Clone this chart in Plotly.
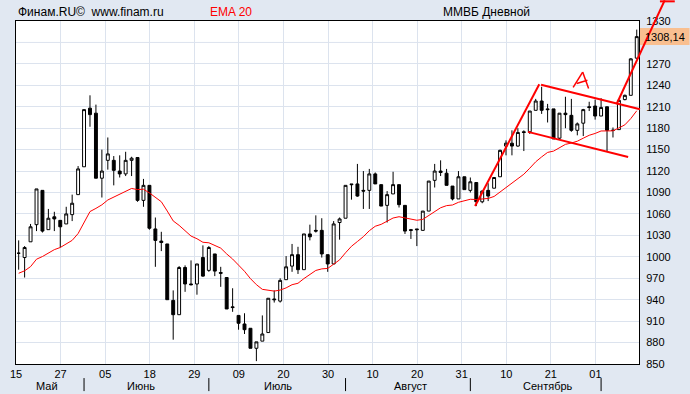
import plotly.graph_objects as go

# ---- data ----
opens = [1005, 999, 1021, 1045, 1093, 1038, 1056, 1051, 1046, 1059,
         1087, 1126, 1208, 1201, 1110, 1135, 1135, 1120, 1116, 1135,
         1139, 1079, 1100, 1039, 1022, 1018, 939, 919, 985, 962,
         962, 999, 981, 1004, 978, 971, 930, 918, 906, 900,
         872, 882, 894, 941, 938, 968, 987, 1003, 982, 1032,
         1037, 1037, 1003, 990, 1048, 1054, 1102, 1102, 1093, 1093,
         1116, 1101, 1072, 1088, 1101, 1072, 1038, 1039, 1037, 1064,
         1107, 1120, 1117, 1099, 1081, 1112, 1093, 1104, 1077, 1093,
         1096, 1112, 1155, 1159, 1155, 1175, 1175, 1205, 1218, 1207,
         1207, 1166, 1201, 1198, 1177, 1187, 1210, 1211, 1197, 1210,
         1177, 1178, 1220, 1226, 1278]
highs = [1023, 1015, 1046, 1095, 1093, 1067, 1063, 1051, 1070, 1087,
         1127, 1206, 1226, 1213, 1150, 1167, 1141, 1142, 1147, 1140,
         1139, 1109, 1100, 1055, 1035, 1018, 953, 987, 988, 995,
         990, 1016, 1015, 1004, 986, 971, 956, 918, 921, 900,
         881, 918, 942, 953, 970, 1001, 1018, 1014, 1032, 1045,
         1058, 1054, 1003, 1050, 1055, 1100, 1102, 1130, 1120, 1123,
         1118, 1101, 1092, 1119, 1101, 1072, 1039, 1039, 1064, 1106,
         1130, 1135, 1123, 1099, 1120, 1112, 1111, 1104, 1093, 1103,
         1111, 1150, 1163, 1177, 1180, 1177, 1204, 1221, 1238, 1214,
         1207, 1201, 1224, 1221, 1188, 1207, 1217, 1220, 1222, 1210,
         1181, 1219, 1227, 1278, 1318]
lows = [982, 971, 1021, 1036, 1034, 1038, 1036, 1013, 1046, 1050,
        1087, 1126, 1182, 1110, 1083, 1122, 1100, 1111, 1113, 1113,
        1077, 1070, 1038, 986, 1008, 940, 884, 919, 951, 960,
        947, 972, 979, 973, 958, 927, 923, 898, 892, 872,
        854, 882, 894, 936, 936, 968, 979, 976, 982, 1023,
        1034, 999, 979, 990, 1024, 1054, 1080, 1084, 1067, 1067,
        1102, 1071, 1048, 1088, 1069, 1032, 1025, 1015, 1037, 1064,
        1097, 1113, 1100, 1079, 1081, 1094, 1090, 1071, 1075, 1078,
        1096, 1112, 1142, 1142, 1154, 1148, 1172, 1205, 1200, 1188,
        1165, 1164, 1180, 1175, 1170, 1169, 1204, 1192, 1197, 1147,
        1167, 1178, 1219, 1226, 1277]
closes = [1005, 1013, 1042, 1095, 1036, 1054, 1053, 1042, 1060, 1075,
          1123, 1206, 1199, 1110, 1120, 1144, 1121, 1116, 1135, 1138,
          1079, 1100, 1040, 1023, 1020, 940, 919, 985, 962, 961,
          990, 973, 1013, 980, 977, 927, 929, 907, 898, 872,
          881, 892, 942, 940, 967, 986, 1003, 982, 1032, 1028,
          1036, 1004, 990, 1046, 1053, 1100, 1101, 1085, 1092, 1116,
          1102, 1071, 1087, 1101, 1073, 1036, 1037, 1038, 1064, 1106,
          1120, 1118, 1100, 1081, 1112, 1094, 1105, 1077, 1092, 1085,
          1111, 1149, 1159, 1155, 1174, 1174, 1204, 1218, 1205, 1206,
          1165, 1201, 1199, 1177, 1186, 1206, 1209, 1197, 1209, 1177,
          1177, 1219, 1226, 1277, 1308.14]

x_tick_labels = ["15", "27", "05", "18", "29", "09", "20", "30",
                 "10", "20", "31", "10", "21", "01"]
y_tick_values = [850, 880, 910, 940, 970, 1000, 1030, 1060, 1090, 1120,
                 1150, 1180, 1210, 1240, 1270, 1330]   # 1300 is hidden by the price box
y_hidden_grid = [1300]
month_names = ["Май", "Июнь", "Июль", "Август", "Сентябрь"]
month_label_pos = [4.7, 20.6, 43.6, 66.0, 89.0]      # candle index
month_start_idx = [11, 32, 55, 76, 98]               # first candle of month
ema_seed = 977                                       # EMA value at first candle
last_price = 1308.14

# hand-drawn trend lines (candle index, price)
trend_lines = [
    ((76.8, 1071.0), (87.6, 1241.5)),
    ((87.9, 1240.8), (104.55, 1206.5)),
    ((85.7, 1174.8), (102.55, 1139.8)),
    ((100.6, 1213.5), (108.7, 1358.9)),
    ((107.9, 1357.5), (110.4, 1357.5)),
]
# hand-drawn letter "A" (candle index, price)
letter_a = [
    ((93.3, 1237.0), (94.9, 1258.5)),
    ((94.9, 1258.5), (95.9, 1235.5)),
    ((93.9, 1242.5), (95.7, 1247.0)),
]

# ---- derived ----
idx = list(range(len(closes)))
alpha = 2 / 21
ema = []
prev = ema_seed
for i, c in enumerate(closes):
    if i > 0:
        prev = prev + alpha * (c - prev)
    ema.append(prev)

X0, X1 = -0.45, 104.38
Y0, Y1 = 850, 1330
GRID_STEP = 7.5
GRID_COLOR = "#DCE3EE"


def px(v):
    return (v - X0) / (X1 - X0)


def py(v):
    return (v - Y0) / (Y1 - Y0)


tickvals = [X0 + GRID_STEP * k for k in range(len(x_tick_labels))]

fig = go.Figure()
fig.add_trace(go.Candlestick(
    x=idx, open=opens, high=highs, low=lows, close=closes,
    increasing=dict(line=dict(color="black", width=1), fillcolor="white"),
    decreasing=dict(line=dict(color="black", width=1), fillcolor="black"),
    whiskerwidth=0, hoverinfo="skip", showlegend=False,
))
fig.add_trace(go.Scatter(
    x=idx, y=ema, mode="lines", line=dict(color="#ff0000", width=1),
    hoverinfo="skip", showlegend=False,
))

shapes = []
for g in y_hidden_grid:
    shapes.append(dict(type="line", xref="paper", yref="y", x0=0, x1=1, y0=g, y1=g,
                       line=dict(color=GRID_COLOR, width=1), layer="below"))
# last-price box
pbox_h = 17 / 343
shapes.append(dict(type="rect", xref="paper", yref="paper",
                   x0=px(X1) + 0.0016, x1=1.0811,
                   y0=py(last_price) - pbox_h / 2, y1=py(last_price) + pbox_h / 2,
                   fillcolor="#F9BF90", line=dict(width=0), layer="above"))
for (a, b) in trend_lines:
    shapes.append(dict(type="line", xref="paper", yref="paper",
                       x0=px(a[0]), y0=py(a[1]), x1=px(b[0]), y1=py(b[1]),
                       line=dict(color="#ff0000", width=2), layer="above"))
for (a, b) in letter_a:
    shapes.append(dict(type="line", xref="paper", yref="paper",
                       x0=px(a[0]), y0=py(a[1]), x1=px(b[0]), y1=py(b[1]),
                       line=dict(color="#ff0000", width=1.5), layer="above"))
for m in month_start_idx:
    shapes.append(dict(type="line", xref="paper", yref="paper",
                       x0=px(m), x1=px(m), y0=-0.041, y1=-0.079,
                       line=dict(color="black", width=1), layer="above"))

hdr_font = dict(family="Liberation Sans, Arial, sans-serif", size=12, color="#000000")
annotations = [
    dict(text="Финам.RU©\u00a0\u00a0www.finam.ru", xref="paper", yref="paper",
         x=0, y=1.026, xanchor="left", yanchor="middle", showarrow=False, font=hdr_font),
    dict(text="EMA 20", xref="paper", yref="paper", x=0.3084, y=1.026,
         xanchor="left", yanchor="middle", showarrow=False,
         font=dict(family=hdr_font["family"], size=12, color="#ff0000")),
    dict(text="ММВБ Дневной", xref="paper", yref="paper", x=0.682, y=1.026,
         xanchor="left", yanchor="middle", showarrow=False, font=hdr_font),
    dict(text=f"{last_price:.2f}".replace(".", ","), xref="paper", yref="y",
         x=px(X1) + 0.006, y=last_price, xanchor="left", yanchor="middle",
         showarrow=False,
         font=dict(family="Liberation Sans, Arial, sans-serif", size=11, color="black")),
]
for name, pos in zip(month_names, month_label_pos):
    annotations.append(dict(text=name, xref="x", yref="paper", x=pos, y=-0.064,
                            xanchor="center", yanchor="middle", showarrow=False,
                            font=dict(family="Liberation Sans Narrow, Arial Narrow, Liberation Sans, sans-serif",
                                      size=11, color="black")))

fig.update_layout(
    width=690, height=394,
    margin=dict(l=10, r=51, t=21, b=30),
    paper_bgcolor="#E1E8F2", plot_bgcolor="white",
    showlegend=False, hovermode=False, boxgap=0.3,
    shapes=shapes, annotations=annotations,
    xaxis=dict(range=[X0, X1], tickmode="array", tickvals=tickvals, ticktext=x_tick_labels,
               showgrid=True, gridcolor=GRID_COLOR, gridwidth=1, zeroline=False,
               showline=True, linecolor="black", linewidth=1, mirror=True, ticks="",
               ticklabelstandoff=0,
               tickfont=dict(family="Liberation Sans Narrow, Arial Narrow, Liberation Sans, sans-serif",
                             size=11, color="black"),
               rangeslider=dict(visible=False), fixedrange=True),
    yaxis=dict(range=[Y0, Y1], side="right", tickmode="array", tickvals=y_tick_values,
               ticktext=[str(v) for v in y_tick_values],
               showgrid=True, gridcolor=GRID_COLOR, gridwidth=1, zeroline=False,
               showline=True, linecolor="black", linewidth=1, mirror=True, ticks="",
               ticklabelstandoff=4,
               tickfont=dict(family="Liberation Sans, Arial, sans-serif", size=11, color="black"),
               fixedrange=True),
)

fig.write_html("out.html", config={"displayModeBar": False, "staticPlot": True})

# remove the browser's default page margin so the figure sits at the window origin
with open("out.html", "r", encoding="utf-8") as f:
    html = f.read()
html = html.replace("<head>", "<head><style>html,body{margin:0;padding:0;overflow:hidden;}</style>", 1)
with open("out.html", "w", encoding="utf-8") as f:
    f.write(html)
